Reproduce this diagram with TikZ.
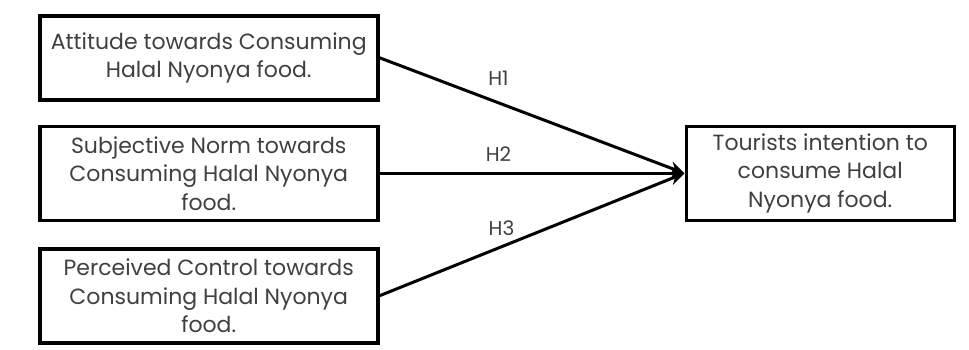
\documentclass[tikz,border=0pt]{standalone}
\usepackage{fontspec}
\setmainfont{Poppins}
\usetikzlibrary{positioning, arrows.meta}

\begin{document}
\begin{tikzpicture}[
    x=1pt, y=1pt,
    caja/.style={
        rectangle,
        draw=black,
        line width=3.5pt,
        align=center,
        text=black!75,
        fill=white,
        font=\fontsize{22}{28.5}\selectfont,
        inner sep=0pt,
        minimum width=338pt,
        minimum height=94pt,
    },
    hip/.style={text=black!75, font=\fontsize{20}{22}\selectfont, inner sep=2pt},
    arr/.style={-{Stealth[length=15pt,width=13pt]}, line width=3pt},
]
\useasboundingbox (0,0) rectangle (969,-349);

% Nodos
\node[caja, minimum height=84pt, anchor=north west] (actitud) at (38,-14) {Attitude towards Consuming\\Halal Nyonya food.};
\node[caja, below=23pt of actitud] (norma) {Subjective Norm towards\\Consuming Halal Nyonya\\food.};
\node[caja, below=25pt of norma] (control) {Perceived Control towards\\Consuming Halal Nyonya\\food.};
\node[caja, minimum width=268pt, right=305pt of norma] (intencion) {Tourists intention to\\consume Halal\\Nyonya food.};

% Hipotesis
\draw[arr] (actitud.east) -- (intencion.west) node[hip, pos=0.39, above=14pt] {H1};
\draw[arr] (norma.east) -- (intencion.west) node[hip, pos=0.39, above=8pt] {H2};
\draw[arr] (control.east) -- (intencion.west) node[hip, pos=0.4, above=8pt] {H3};

\end{tikzpicture}
\end{document}
